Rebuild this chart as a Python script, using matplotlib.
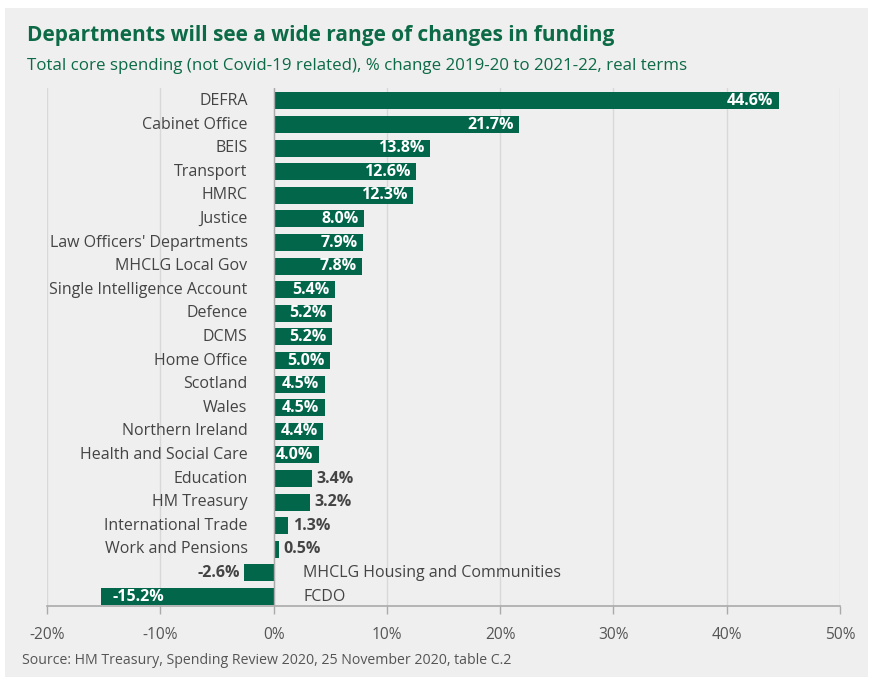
import matplotlib
matplotlib.use('Agg')
import matplotlib.pyplot as plt
from matplotlib.patches import Rectangle
import numpy as np

# ── Data ──
departments = ["DEFRA", "Cabinet Office", "BEIS", "Transport", "HMRC", "Justice",
               "Law Officers' Departments", "MHCLG Local Gov", "Single Intelligence Account",
               "Defence", "DCMS", "Home Office", "Scotland", "Wales", "Northern Ireland",
               "Health and Social Care", "Education", "HM Treasury", "International Trade",
               "Work and Pensions", "MHCLG Housing and Communities", "FCDO"]
change_pct = [44.6, 21.7, 13.8, 12.6, 12.3, 8.0, 7.9, 7.8, 5.4, 5.2, 5.2, 5.0,
              4.5, 4.5, 4.4, 4.0, 3.4, 3.2, 1.3, 0.5, -2.6, -15.2]
x_ticks = [-20, -10, 0, 10, 20, 30, 40, 50]

# ── Style ──
GREEN = "#02664a"
TITLE_GREEN = "#0c6a46"
BG = "#efefef"
TEXT = "#444444"
FONT = "Open Sans"

plt.rcParams['font.family'] = [FONT, 'DejaVu Sans']

fig = plt.figure(figsize=(8.84, 6.84), dpi=100)
fig.patch.set_facecolor("white")
fig.patches.append(Rectangle((5 / 884, 1 - 677 / 684), 863 / 884, 669 / 684,
                             transform=fig.transFigure, facecolor=BG,
                             edgecolor="none", zorder=-10))

ax = fig.add_axes([47 / 884, 1 - 606 / 684, 793 / 884, 518 / 684])
ax.set_facecolor("none")

y = np.arange(len(departments))
ax.barh(y, change_pct, height=0.72, color=GREEN, zorder=3)

ax.set_xlim(-20, 50)
ax.set_ylim(len(departments) - 0.6, -0.55)
ax.set_xticks(x_ticks)
ax.set_xticklabels([f"{t}%" for t in x_ticks], fontsize=11.2, color="#555555")
ax.set_yticks([])
ax.tick_params(axis="x", length=6, width=1, color="#aaaaaa", pad=9)
ax.grid(axis="x", color="#d8d8d8", linewidth=1, zorder=0)
for s in ["top", "right", "left"]:
    ax.spines[s].set_visible(False)
ax.spines["bottom"].set_color("#aaaaaa")
ax.spines["bottom"].set_linewidth(1.2)
ax.axvline(0, color="#aaaaaa", linewidth=1, zorder=4)

for i, (name, v) in enumerate(zip(departments, change_pct)):
    lab = f"{v:.1f}%"
    if v >= 0:
        ax.text(-2.3, i, name, ha="right", va="center", fontsize=11.5, color=TEXT)
        if v >= 4:
            ax.text(v - 0.5, i, lab, ha="right", va="center", fontsize=11.5,
                    color="white", fontweight="bold", zorder=5)
        else:
            ax.text(v + 0.4, i, lab, ha="left", va="center", fontsize=11.5,
                    color=TEXT, fontweight="bold", zorder=5)
    else:
        ax.text(2.6, i, name, ha="left", va="center", fontsize=11.5, color=TEXT)
        if v <= -4:
            ax.text(v + 1.0, i, lab, ha="left", va="center", fontsize=11.5,
                    color="white", fontweight="bold", zorder=5)
        else:
            ax.text(v - 0.4, i, lab, ha="right", va="center", fontsize=11.5,
                    color=TEXT, fontweight="bold", zorder=5)

fig.text(27 / 884, 1 - 35 / 684, "Departments will see a wide range of changes in funding",
         fontsize=15.0, fontweight="bold", color=TITLE_GREEN, va="center")
fig.text(27 / 884, 1 - 66 / 684,
         "Total core spending (not Covid-19 related), % change 2019-20 to 2021-22, real terms",
         fontsize=12.2, color=TITLE_GREEN, va="center")
fig.text(22 / 884, 1 - 661 / 684, "Source: HM Treasury, Spending Review 2020, 25 November 2020, table C.2",
         fontsize=10.2, color="#555555", va="center")

fig.savefig("out.png", dpi=100, facecolor=fig.get_facecolor())
